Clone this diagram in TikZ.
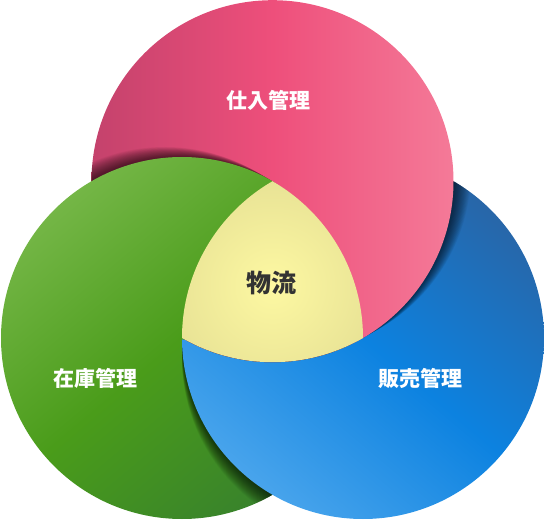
\documentclass[tikz,border=0pt]{standalone}
\usepackage{fontspec}
\newfontfamily\cjk{Noto Sans CJK JP}
\usetikzlibrary{calc}
\definecolor{pinkL}{HTML}{C4426C}
\definecolor{pinkM}{HTML}{EE4F7B}
\definecolor{pinkR}{HTML}{F47A98}
\definecolor{grnT}{HTML}{74B646}
\definecolor{grnM}{HTML}{4A9C1A}
\definecolor{grnB}{HTML}{38822C}
\definecolor{bluT}{HTML}{2866A8}
\definecolor{bluM}{HTML}{0C82E0}
\definecolor{bluB}{HTML}{48A4EC}
\definecolor{ylwI}{HTML}{FDF8A2}
\definecolor{ylwO}{HTML}{D6D08A}
\definecolor{txtD}{HTML}{333333}
\tikzset{
  greendisc/.style={top color=grnT, bottom color=grnB, middle color=grnM, shading angle=40},
  bluedisc/.style={top color=bluT, bottom color=bluB, middle color=bluM, shading angle=-40},
  pinkdisc/.style={left color=pinkL, right color=pinkR, middle color=pinkM},
  shadowlayer/.style={fill=black, opacity=0.038},
  labelw/.style={text=white, font=\cjk\bfseries\fontsize{21}{25}\selectfont},
  labeld/.style={text=txtD, font=\cjk\bfseries\fontsize{25}{30}\selectfont}
}
\begin{document}
\begin{tikzpicture}[x=1pt,y=1pt]
\useasboundingbox (0,0) rectangle (544,520);
\def\R{181pt}
\coordinate (P) at (272.5,338.8);
\coordinate (G) at (182,182);
\coordinate (B) at (363,182);
\coordinate (C) at (272.5,234.3);
% green disc
\shade[greendisc] (G) circle (\R);
% blue shadow on green
\begin{scope}
  \clip (G) circle (\R);
  \foreach \i in {1,...,20} \fill[shadowlayer] ($(B)+(270:\i pt)$) circle (\R);
\end{scope}
% blue disc
\shade[bluedisc] (B) circle (\R);
% pink shadow on blue
\begin{scope}
  \clip (B) circle (\R);
  \foreach \i in {1,...,20} \fill[shadowlayer] ($(P)+(30:\i pt)$) circle (\R);
\end{scope}
% pink disc
\shade[pinkdisc] (P) circle (\R);
% green shadow on pink
\begin{scope}
  \clip (P) circle (\R);
  \foreach \i in {1,...,20} \fill[shadowlayer] ($(G)+(150:\i pt)$) circle (\R);
\end{scope}
% green over pink (outside blue)
\begin{scope}[even odd rule]
  \clip (P) circle (182pt);
  \clip (-20,-20) rectangle (570,540) (B) circle (179.5pt);
  \shade[greendisc] (G) circle (\R);
\end{scope}
% centre region
\begin{scope}
  \clip (P) circle (\R);
  \clip (G) circle (\R);
  \clip (B) circle (\R);
  \shade[inner color=ylwI, outer color=ylwO] (C) circle (200pt);
\end{scope}
\node[labelw] (shiire) at (268,420) {仕入管理};
\node[labelw] (zaiko) at (95,142) {在庫管理};
\node[labelw] (hanbai) at (420,142) {販売管理};
\node[labeld] (butsuryu) at (271,237) {物流};
\end{tikzpicture}
\end{document}
